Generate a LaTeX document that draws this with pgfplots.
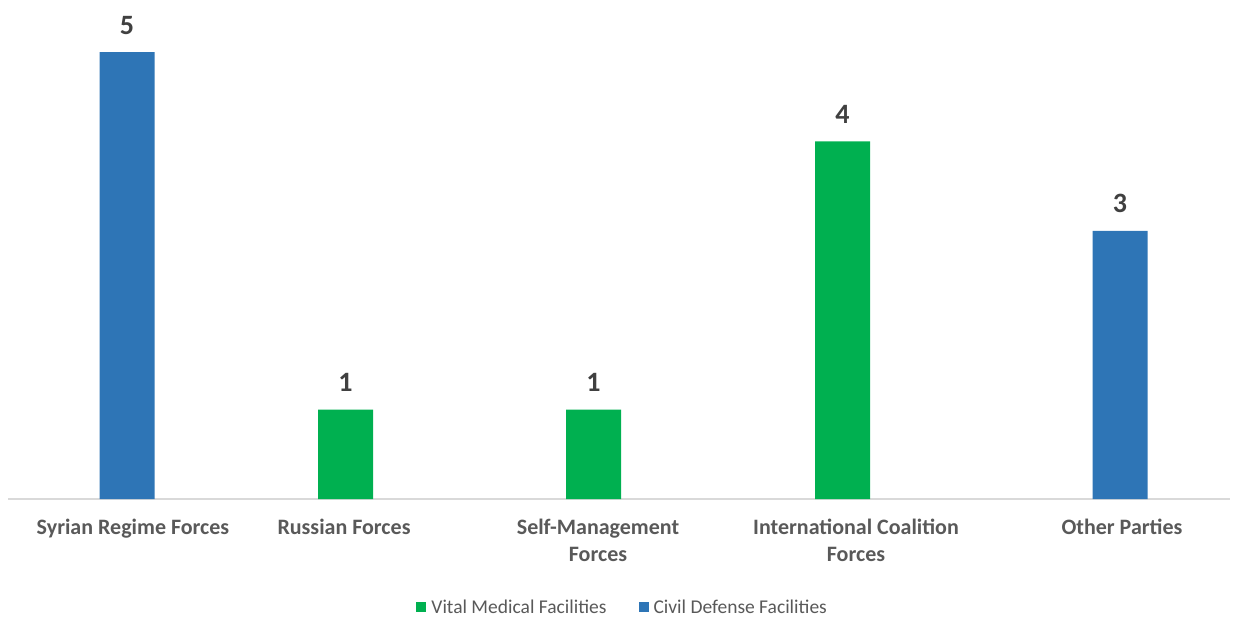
\documentclass[border=0pt]{standalone}
\usepackage{fontspec}
\setmainfont{Carlito}
\usepackage{pgfplots}
\pgfplotsset{compat=1.18}
\definecolor{vgreen}{HTML}{00B050}
\definecolor{cblue}{HTML}{2E75B6}
\definecolor{lbl}{HTML}{404040}
\definecolor{tck}{HTML}{595959}
\definecolor{axl}{HTML}{D9D9D9}
\begin{document}
\begin{tikzpicture}
\path[use as bounding box] (0,0) rectangle (1237bp,617bp);
\begin{axis}[
 at={(8bp,118bp)}, anchor=south west,
 scale only axis, width=1222bp, height=491.7bp,
 xmin=8, xmax=1230, ymin=0, ymax=5.5,
 axis x line*=bottom, axis y line=none,
 x axis line style={-, draw=axl, line width=1.3bp},
 ytick=\empty,
 xtick={133,344,598,856,1122},
 xticklabels={Syrian Regime Forces, Russian Forces, Self-Management\\Forces, International Coalition\\Forces, Other Parties},
 xticklabel style={font=\fontsize{22bp}{27bp}\selectfont\bfseries, text=tck, align=center, anchor=north, inner sep=0pt, yshift=-20bp},
 major tick length=0pt,
 ybar, bar width=55,
 nodes near coords,
 every node near coord/.append style={font=\fontsize{28bp}{32bp}\selectfont\bfseries, text=lbl, inner sep=0pt, yshift=17.5bp, anchor=south},
 /pgf/number format/assume math mode=true,
 clip=false,
 legend style={draw=none, at={(0.503,-0.2196)}, anchor=center, legend columns=2, font=\fontsize{19.5bp}{23bp}\selectfont, text=tck, /tikz/every even column/.append style={column sep=30bp}, /tikz/every odd column/.append style={column sep=3bp}},
]
\addplot[fill=vgreen, draw=none, bar shift=0pt, legend image code/.code={\fill[vgreen] (0bp,-5bp) rectangle (10bp,5bp);}] coordinates {(345.5,1) (593.5,1) (842.5,4)};
\addlegendentry{Vital Medical Facilities}
\addplot[fill=cblue, draw=none, bar shift=0pt, legend image code/.code={\fill[cblue] (0bp,-5bp) rectangle (10bp,5bp);}] coordinates {(127,5) (1120,3)};
\addlegendentry{Civil Defense Facilities}
\end{axis}
\end{tikzpicture}
\end{document}
